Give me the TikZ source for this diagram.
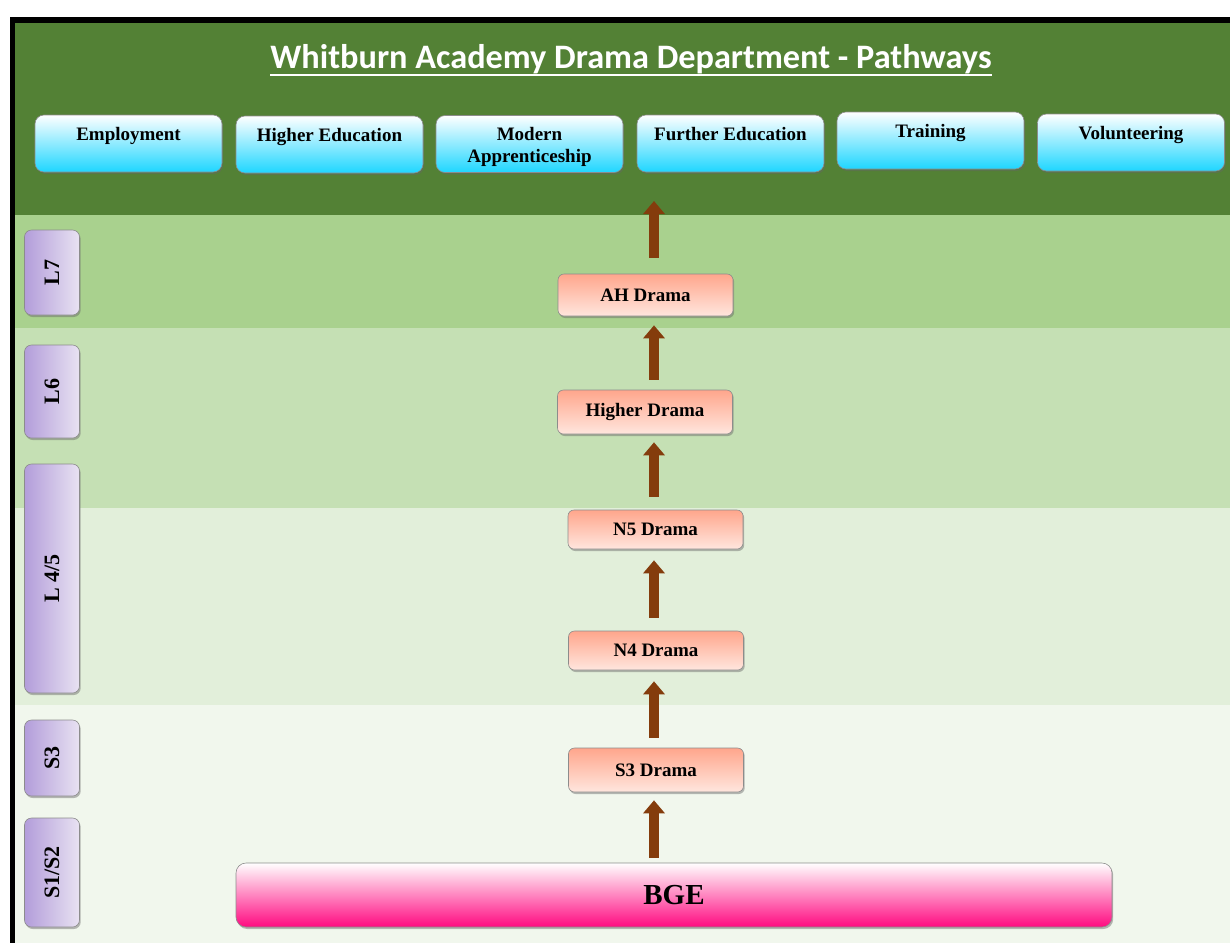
\documentclass[tikz,border=0pt]{standalone}
\usepackage{fontspec}
\newfontfamily\boxfont{Liberation Serif}
\newfontfamily\titlefont{Carlito}
\usetikzlibrary{arrows.meta,shadows}
\definecolor{hdrgreen}{HTML}{538135}
\definecolor{bandA}{HTML}{A9D18E}
\definecolor{bandB}{HTML}{C5E0B4}
\definecolor{bandC}{HTML}{E2EFDA}
\definecolor{bandD}{HTML}{F1F7ED}
\definecolor{cyanb}{HTML}{1ED6FF}
\definecolor{salmonT}{HTML}{FFA68C}
\definecolor{salmonB}{HTML}{FFE6DE}
\definecolor{purpL}{HTML}{B39DDA}
\definecolor{purpR}{HTML}{E8E2F2}
\definecolor{pinkB}{HTML}{FF0A80}
\definecolor{arrowbrown}{HTML}{843C0C}
\definecolor{edgegray}{HTML}{8C8C8C}
\newcommand{\pathtext}[1]{\parbox[c][57pt][t]{182pt}{\centering\rule{0pt}{25pt}#1}}
\tikzset{
  boxshadow/.style={drop shadow={shadow xshift=1.2pt, shadow yshift=-2pt, opacity=0.45, fill=black!60}},
  pathbox/.style={rounded corners=9pt, minimum width=187pt, minimum height=57pt, inner sep=0pt,
    top color=white, bottom color=cyanb, draw=edgegray, line width=0.6pt, boxshadow,
    font=\boxfont\bfseries\fontsize{19}{22}\selectfont},
  levelbox/.style={rounded corners=7pt, minimum width=55pt, inner sep=0pt,
    left color=purpL, right color=purpR, draw=edgegray, line width=0.6pt, boxshadow,
    font=\boxfont\bfseries\fontsize{22}{26}\selectfont},
  coursebox/.style={rounded corners=6pt, minimum width=175pt, inner sep=0pt,
    top color=salmonT, bottom color=salmonB, draw=edgegray, line width=0.6pt, boxshadow,
    font=\boxfont\bfseries\fontsize{19}{22}\selectfont},
  bgebox/.style={rounded corners=10pt, minimum width=876pt, minimum height=64pt, inner sep=0pt,
    top color=white, bottom color=pinkB, draw=edgegray, line width=0.6pt, boxshadow,
    font=\boxfont\bfseries\fontsize{29}{32}\selectfont},
  uparrow/.style={line width=10pt, draw=arrowbrown, -{Triangle[width=21pt,length=13pt]}}
}
\begin{document}
\begin{tikzpicture}[x=1pt,y=-1pt]
\useasboundingbox (0,0) rectangle (1230,943);
\fill[white] (0,0) rectangle (1230,943);
% frame
\fill[black] (10,17) rectangle (1230,23);
\fill[black] (10,17) rectangle (15,943);
% bands
\fill[hdrgreen] (15,23) rectangle (1230,215);
\fill[bandA] (15,215) rectangle (1230,328);
\fill[bandB] (15,328) rectangle (1230,508);
\fill[bandC] (15,508) rectangle (1230,705);
\fill[bandD] (15,705) rectangle (1230,943);
% title
\node[anchor=base, inner sep=0pt, text=white, font=\titlefont\bfseries\fontsize{34.3}{37}\selectfont] (title) at (631,68) {Whitburn Academy Drama Department - Pathways};
\draw[white, line width=2pt] ([yshift=-1.5pt]title.south west) -- ([yshift=-1.5pt]title.south east);
% pathways
\node[pathbox] (emp) at (128.5,143.5) {\pathtext{Employment}};
\node[pathbox] (he) at (329.5,144.5) {\pathtext{Higher Education}};
\node[pathbox] (ma) at (529.5,144) {\pathtext{Modern\\Apprenticeship}};
\node[pathbox] (fe) at (730.5,143.5) {\pathtext{Further Education}};
\node[pathbox] (tr) at (930.5,140.5) {\pathtext{Training}};
\node[pathbox] (vol) at (1131,142.5) {\pathtext{Volunteering}};
% levels
\node[levelbox, minimum height=85pt] (l7) at (52,272.5) {\rotatebox{90}{L7}};
\node[levelbox, minimum height=93pt] (l6) at (52,391.5) {\rotatebox{90}{L6}};
\node[levelbox, minimum height=229pt] (l45) at (52,578.5) {\rotatebox{90}{L 4/5}};
\node[levelbox, minimum height=76pt] (ls3) at (52,758) {\rotatebox{90}{S3}};
\node[levelbox, minimum height=109pt] (ls12) at (52,872.5) {\rotatebox{90}{S1/S2}};
% courses
\node[coursebox, minimum height=42pt] (ah) at (645.5,295) {AH Drama};
\node[coursebox, minimum height=44pt] (hd) at (645,412) {Higher Drama};
\node[coursebox, minimum height=39pt] (n5) at (655.5,529.5) {N5 Drama};
\node[coursebox, minimum height=39pt] (n4) at (656,650.5) {N4 Drama};
\node[coursebox, minimum height=44pt] (s3) at (656,770) {S3 Drama};
\node[bgebox] (bge) at (674,895) {BGE};
% arrows
\coordinate (col) at (654,0);
\coordinate (toptip) at (654,201);
\draw[uparrow, shorten <=5pt, shorten >=8pt] (col |- bge.north) -- (col |- s3.south);
\draw[uparrow, shorten <=10pt, shorten >=11pt] (col |- s3.north) -- (col |- n4.south);
\draw[uparrow, shorten <=13pt, shorten >=11pt] (col |- n4.north) -- (col |- n5.south);
\draw[uparrow, shorten <=13pt, shorten >=8pt] (col |- n5.north) -- (col |- hd.south);
\draw[uparrow, shorten <=10pt, shorten >=9pt] (col |- hd.north) -- (col |- ah.south);
\draw[uparrow, shorten <=16pt] (col |- ah.north) -- (toptip);
\end{tikzpicture}
\end{document}
